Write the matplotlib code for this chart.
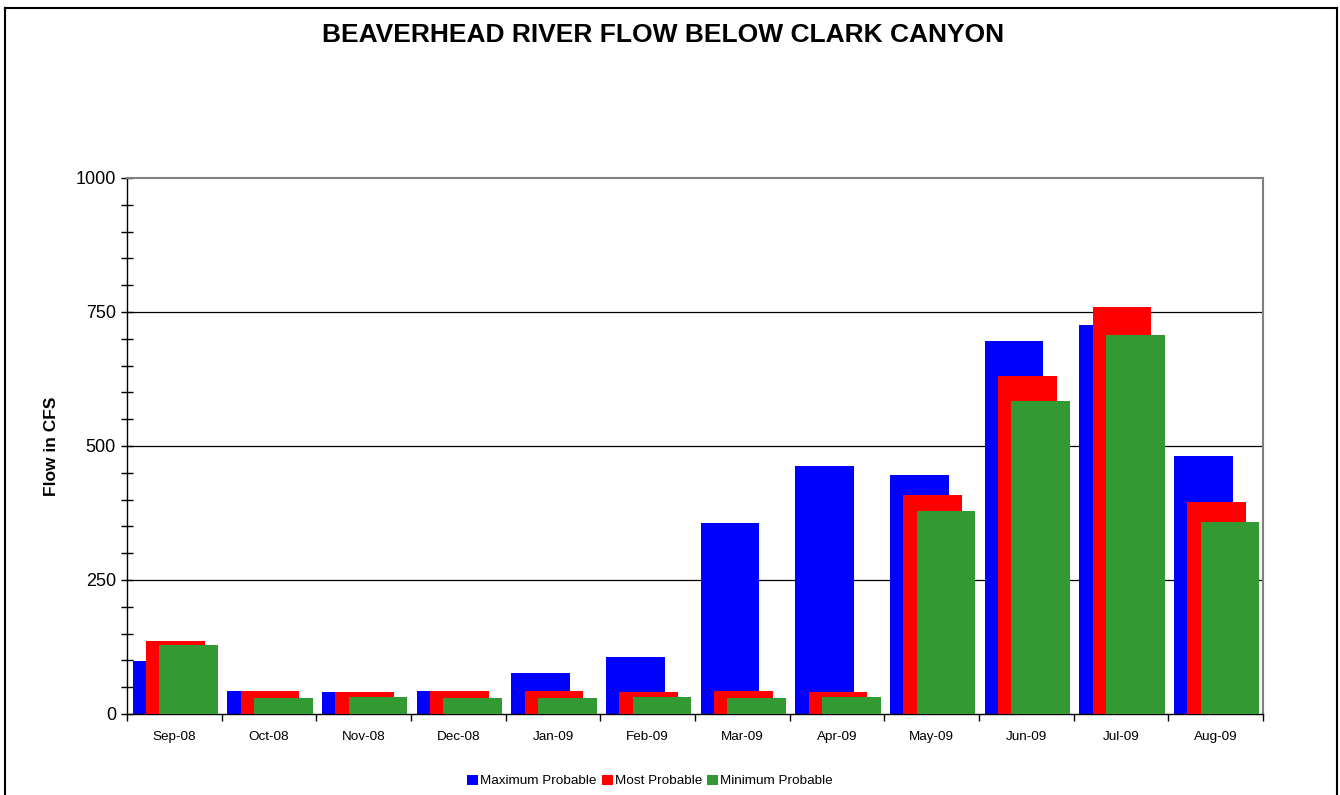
import numpy as np
import matplotlib.pyplot as plt
from matplotlib.lines import Line2D
from matplotlib.ticker import MultipleLocator

plt.rcParams['font.family'] = ['Liberation Sans', 'DejaVu Sans']

months = ["Sep-08", "Oct-08", "Nov-08", "Dec-08", "Jan-09", "Feb-09",
          "Mar-09", "Apr-09", "May-09", "Jun-09", "Jul-09", "Aug-09"]
max_probable = [98, 42, 41, 42, 76, 107, 356, 462, 445, 695, 726, 481]
most_probable = [137, 42, 41, 42, 42, 41, 42, 41, 408, 630, 760, 396]
min_probable = [129, 30, 32, 30, 30, 32, 30, 31, 378, 584, 707, 359]

fig = plt.figure(figsize=(13.4, 7.95), dpi=100, facecolor='white')
ax = fig.add_axes([127/1340, 1-714/795, (1263-127)/1340, (714-178)/795])

x = np.arange(len(months))
w = 0.62
ax.bar(x - 0.13, max_probable, w, color='#0000FF', label='Maximum Probable', zorder=2)
ax.bar(x + 0.01, most_probable, w, color='#FF0000', label='Most Probable', zorder=3)
ax.bar(x + 0.15, min_probable, w, color='#339933', label='Minimum Probable', zorder=4)

ax.set_xlim(-0.5, len(months) - 0.5)
ax.set_ylim(0, 1000)
ax.set_yticks([0, 250, 500, 750, 1000])
ax.yaxis.set_minor_locator(MultipleLocator(50))
ax.tick_params(axis='y', which='both', direction='inout', length=8, width=1,
               labelsize=13, pad=4)
ax.set_xticks(x)
ax.set_xticklabels(months, fontsize=9.7)
ax.set_xticks(np.arange(-0.5, len(months)), minor=True)
ax.tick_params(axis='x', which='major', length=0, pad=12)
ax.tick_params(axis='x', which='minor', direction='out', length=5, width=1)

for yv in [250, 500, 750]:
    ax.axhline(yv, color='black', lw=0.9, zorder=1)

ax.spines['top'].set_color('#808080')
ax.spines['right'].set_color('#808080')
ax.spines['top'].set_linewidth(1.5)
ax.spines['right'].set_linewidth(1.5)
ax.spines['left'].set_linewidth(1)
ax.spines['bottom'].set_linewidth(1)

ax.set_ylabel('Flow in CFS', fontsize=12.5, fontweight='bold', labelpad=12)

fig.text(663/1340, 1-35/795, 'BEAVERHEAD RIVER FLOW BELOW CLARK CANYON',
         ha='center', va='center', fontsize=19, fontweight='bold')

fig.legend(loc='center', bbox_to_anchor=(650/1340, 1-781/795), ncol=3,
           frameon=False, fontsize=9.7, handlelength=0.8, handleheight=0.8,
           handletextpad=0.15, columnspacing=0.4)

# outer chart border
bx0, bx1, by = 5/1340, 1337/1340, 1-8/795
fig.add_artist(Line2D([bx0, bx0], [-0.01, by], color='black', lw=1.5))
fig.add_artist(Line2D([bx1, bx1], [-0.01, by], color='black', lw=1.5))
fig.add_artist(Line2D([bx0, bx1], [by, by], color='black', lw=1.5))

fig.savefig('out.png', dpi=100, facecolor='white')
